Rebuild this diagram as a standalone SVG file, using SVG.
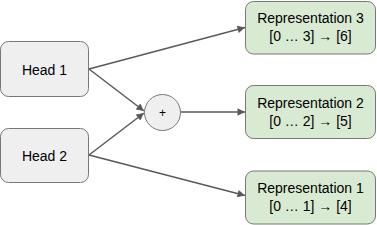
<svg xmlns="http://www.w3.org/2000/svg" width="377" height="225" viewBox="0 0 377 225">
<defs>
<style>
.head{fill:#efefef;stroke:#777;stroke-width:1}
.rep{fill:#d9ead3;stroke:#777;stroke-width:1}
.t{font-family:"Liberation Sans",Arial,sans-serif;font-size:14px;fill:#000;text-anchor:middle}
.e{stroke:#595959;stroke-width:1.5;fill:none}
</style>
<marker id="ah" viewBox="0 0 10 10" refX="10" refY="5" markerWidth="6" markerHeight="5" orient="auto" markerUnits="strokeWidth">
<path d="M0,0 L10,5 L0,10 z" fill="#595959"/>
</marker>
</defs>
<g id="connectors">
<line class="e" x1="89" y1="69" x2="245" y2="27.5" marker-end="url(#ah)"/>
<line class="e" x1="89" y1="69" x2="144" y2="111" marker-end="url(#ah)"/>
<line class="e" x1="89" y1="155" x2="144" y2="113" marker-end="url(#ah)"/>
<line class="e" x1="180" y1="112" x2="245" y2="112" marker-end="url(#ah)"/>
<line class="e" x1="89" y1="155" x2="245" y2="195.5" marker-end="url(#ah)"/>
</g>
<g id="head1">
<rect class="head" x="0.5" y="41.5" width="88" height="55" rx="8"/>
<text class="t" x="44.5" y="74.5">Head 1</text>
</g>
<g id="head2">
<rect class="head" x="0.5" y="128.5" width="88" height="54" rx="8"/>
<text class="t" x="44.5" y="160.5">Head 2</text>
</g>
<g id="plus">
<circle class="head" cx="162.5" cy="112.5" r="18"/>
<text class="t" x="162.5" y="117" style="font-size:12px">+</text>
</g>
<g id="rep3">
<rect class="rep" x="245.5" y="1.5" width="130" height="52.5" rx="8"/>
<text class="t" x="310.5" y="23">Representation 3</text>
<text class="t" x="310.5" y="41">[0 … 3] → [6]</text>
</g>
<g id="rep2">
<rect class="rep" x="245.5" y="85.5" width="130" height="53" rx="8"/>
<text class="t" x="310.5" y="108">Representation 2</text>
<text class="t" x="310.5" y="126">[0 … 2] → [5]</text>
</g>
<g id="rep1">
<rect class="rep" x="245.5" y="171" width="130" height="53" rx="8"/>
<text class="t" x="310.5" y="193">Representation 1</text>
<text class="t" x="310.5" y="211">[0 … 1] → [4]</text>
</g>
</svg>
